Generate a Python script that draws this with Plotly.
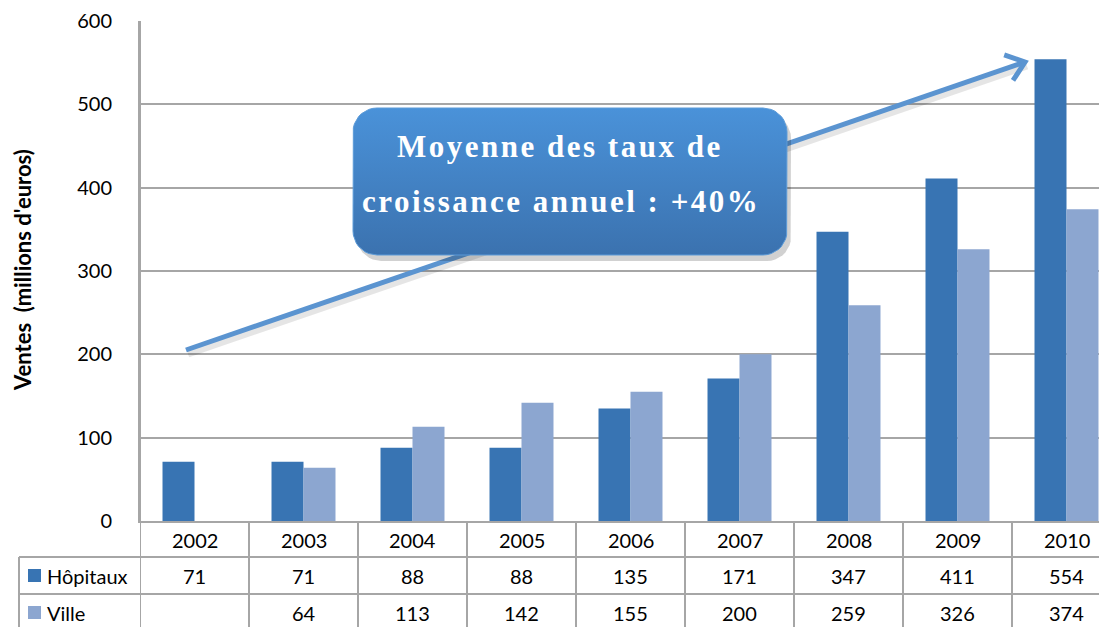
import math
import numpy as np
import plotly.graph_objects as go

# ---------------- data ----------------
years = ["2002", "2003", "2004", "2005", "2006", "2007", "2008", "2009", "2010"]
hopitaux = [71, 71, 88, 88, 135, 171, 347, 411, 554]
ville = [None, 64, 113, 142, 155, 200, 259, 326, 374]
series_names = ["Hôpitaux", "Ville"]
y_ticks = [0, 100, 200, 300, 400, 500, 600]
y_title = "Ventes  (millions d'euros)"
callout_lines = ["Moyenne des taux de", "croissance annuel : +40%"]

# ---------------- styling ----------------
OFF = 8                      # page body margin of the html page
W, H = 1107, 627             # screen size (reference pixel coords)
PL, PT, PB = 140, 21, 521    # plot area in reference pixels
PW, PH = W - PL, PB - PT
COL_W = 109.0
FONT = "Lato, 'Open Sans', sans-serif"
GRID = "#A6A6A6"
C_HOP = "#3874B3"
C_VIL = "#8CA6D0"
C_ARROW = "#5B94D0"

n = len(years)
x_idx = list(range(n))
x_right = (W - PL) / COL_W - 0.5


def px(xp):  # reference pixel -> paper x
    return (xp - PL) / PW


def py(yp):  # reference pixel -> paper y
    return (PB - yp) / PH


fig = go.Figure()

fig.add_trace(go.Bar(x=x_idx, y=hopitaux, name=series_names[0],
                     marker=dict(color=C_HOP, line=dict(width=0)),
                     showlegend=False))
fig.add_trace(go.Bar(x=x_idx, y=ville, name=series_names[1],
                     marker=dict(color=C_VIL, line=dict(width=0)),
                     showlegend=False))

# ---------- arrow (overlay pixel axes) ----------
a0 = (186, 350)
a1 = (1025, 62)
dx, dy = a1[0] - a0[0], a1[1] - a0[1]
ln = math.hypot(dx, dy)
ux, uy = dx / ln, dy / ln
arm = 22
ang = math.radians(38)
arms = []
for s in (1, -1):
    c, si = math.cos(s * ang), math.sin(s * ang)
    bx, by = -ux, -uy
    arms.append((a1[0] + arm * (bx * c - by * si), a1[1] + arm * (bx * si + by * c)))

fig.add_trace(go.Scatter(x=[a0[0] + 2, a1[0] + 2], y=[a0[1] + 4, a1[1] + 4],
                         xaxis="x2", yaxis="y2", mode="lines",
                         line=dict(color="rgba(0,0,0,0.10)", width=7),
                         hoverinfo="skip", showlegend=False))
fig.add_trace(go.Scatter(x=[a0[0], a1[0]], y=[a0[1], a1[1]],
                         xaxis="x2", yaxis="y2", mode="lines",
                         line=dict(color=C_ARROW, width=5),
                         hoverinfo="skip", showlegend=False))
fig.add_trace(go.Scatter(x=[arms[0][0], a1[0], arms[1][0]],
                         y=[arms[0][1], a1[1], arms[1][1]],
                         xaxis="x2", yaxis="y2", mode="lines",
                         line=dict(color=C_ARROW, width=5),
                         hoverinfo="skip", showlegend=False))


# ---------- rounded callout box ----------
def rrect(x0, y0, x1, y1, r, k=10):
    xs, ys = [], []
    corners = [(x1 - r, y0 + r, -90, 0), (x1 - r, y1 - r, 0, 90),
               (x0 + r, y1 - r, 90, 180), (x0 + r, y0 + r, 180, 270)]
    for cx, cy, t0, t1 in corners:
        for t in np.linspace(t0, t1, k):
            xs.append(cx + r * math.cos(math.radians(t)))
            ys.append(cy + r * math.sin(math.radians(t)))
    xs.append(xs[0]); ys.append(ys[0])
    return xs, ys


bx0, by0, bx1, by1 = 353, 108, 787, 255
sx, sy = rrect(bx0 + 4, by0 + 6, bx1 + 4, by1 + 6, 24)
fig.add_trace(go.Scatter(x=sx, y=sy, xaxis="x2", yaxis="y2", mode="lines",
                         fill="toself", fillcolor="rgba(0,0,0,0.18)",
                         line=dict(width=0), hoverinfo="skip", showlegend=False))
rx, ry = rrect(bx0, by0, bx1, by1, 24)
fig.add_trace(go.Scatter(x=rx, y=ry, xaxis="x2", yaxis="y2", mode="lines",
                         fill="toself",
                         fillgradient=dict(type="vertical", start=by1, stop=by0,
                                           colorscale=[[0, "#3B72AF"], [1, "#4A92D9"]]),
                         line=dict(width=1, color="#5C9BD8"),
                         hoverinfo="skip", showlegend=False))

annotations = []
for txt, cxp, cyp in [(callout_lines[0], 560, 146), (callout_lines[1], 561, 201)]:
    annotations.append(dict(
        x=cxp, y=cyp, xref="x2", yref="y2", showarrow=False,
        text="<b><span style='letter-spacing:2.5px'>" + txt + "</span></b>",
        font=dict(family="'Liberation Serif', 'DejaVu Serif', serif", size=31, color="white"),
        xanchor="center", yanchor="middle"))

# ---------- data table ----------
shapes = []
line_style = dict(color=GRID, width=2)
table_bottom = py(H + 10)
row_lines = [py(557), py(594)]
for i in range(n + 1):
    shapes.append(dict(type="line", xref="x", yref="paper",
                       x0=i - 0.5, x1=i - 0.5,
                       y0=1 if i == 0 else 0, y1=table_bottom, line=line_style))
for yl in row_lines:
    shapes.append(dict(type="line", xref="paper", yref="paper",
                       x0=px(19), x1=1, y0=yl, y1=yl, line=line_style))
shapes.append(dict(type="line", xref="paper", yref="paper",
                   x0=px(19), x1=px(19), y0=row_lines[0], y1=table_bottom, line=line_style))
for (yt, yb), col in [((569, 582), C_HOP), ((606, 619), C_VIL)]:
    shapes.append(dict(type="rect", xref="paper", yref="paper",
                       x0=px(28), x1=px(41), y0=py(yb), y1=py(yt),
                       fillcolor=col, line=dict(width=0)))

row_y = [py(540), py(576), py(613)]
cell_font = dict(family=FONT, size=20, color="black")
for i, yr in enumerate(years):
    annotations.append(dict(x=i, y=row_y[0], xref="x", yref="paper", text=yr,
                            showarrow=False, font=cell_font,
                            xanchor="center", yanchor="middle"))
    annotations.append(dict(x=i, y=row_y[1], xref="x", yref="paper",
                            text=str(hopitaux[i]), showarrow=False, font=cell_font,
                            xanchor="center", yanchor="middle"))
    annotations.append(dict(x=i, y=row_y[2], xref="x", yref="paper",
                            text="" if ville[i] is None else str(ville[i]),
                            showarrow=False, font=cell_font,
                            xanchor="center", yanchor="middle"))
for name, yr in zip(series_names, row_y[1:]):
    annotations.append(dict(x=px(45), y=yr, xref="paper", yref="paper", text=name,
                            showarrow=False, font=cell_font,
                            xanchor="left", yanchor="middle"))

annotations.append(dict(x=px(22), y=py(270), xref="paper", yref="paper",
                        text="<b>" + y_title + "</b>", textangle=-90, showarrow=False,
                        font=dict(family=FONT, size=22, color="black"),
                        xanchor="center", yanchor="middle"))

fig.update_layout(
    width=W - OFF, height=H - OFF,
    margin=dict(l=PL - OFF, r=0, t=PT - OFF, b=(H - OFF) - (PB - OFF), pad=0),
    paper_bgcolor="white", plot_bgcolor="white",
    barmode="group", bargap=0.413, bargroupgap=0,
    xaxis=dict(range=[-0.5, x_right], showticklabels=False, ticks="",
               showgrid=False, zeroline=False, showline=True,
               linecolor=GRID, linewidth=2, fixedrange=True),
    yaxis=dict(range=[0, 600], tickvals=y_ticks, showgrid=True,
               gridcolor=GRID, gridwidth=2, zeroline=False,
               showline=True, linecolor=GRID, linewidth=2,
               ticks="", ticklabelstandoff=22,
               tickfont=dict(family=FONT, size=20, color="black"), fixedrange=True),
    xaxis2=dict(overlaying="x", range=[PL, W], visible=False, fixedrange=True),
    yaxis2=dict(overlaying="y", range=[PB, PT], visible=False, fixedrange=True),
    shapes=shapes,
    annotations=annotations,
    showlegend=False,
)

fig.write_html("out.html")
